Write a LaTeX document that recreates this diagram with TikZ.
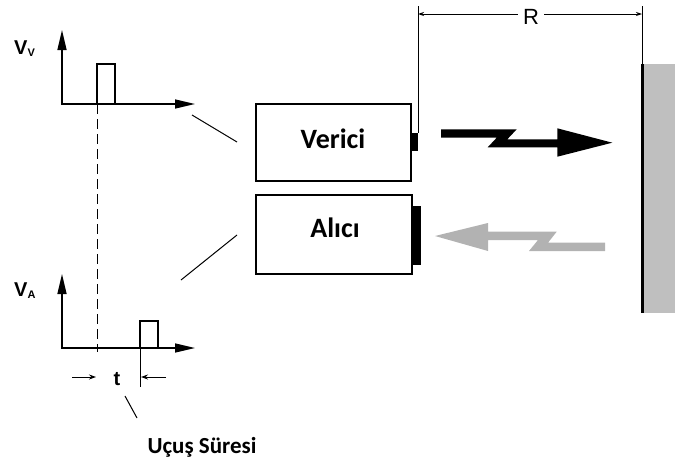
\documentclass[tikz,border=0pt]{standalone}
\usepackage{fontspec}
\setmainfont{Carlito}
\newfontfamily\arialfont{Liberation Sans}
\newfontfamily\arialbold{Liberation Sans Bold}
\usetikzlibrary{arrows.meta}
\tikzset{
  axisline/.style={line width=1.4pt, {Triangle[length=20pt,width=9pt]}-{Triangle[length=20pt,width=9pt]}},
  pulse/.style={line width=1.1pt},
  thinline/.style={line width=0.9pt},
  dimarrow/.style={line width=0.9pt, -{Stealth[length=7pt,width=5pt]}},
  bigtxt/.style={font=\fontsize{28}{28}\selectfont\bfseries, inner sep=0pt, anchor=base},
  plotlabel/.style={anchor=base west, inner sep=0pt, font=\arialbold\fontsize{20}{20}\selectfont}
}
\begin{document}
\begin{tikzpicture}[x=1pt,y=-1pt]
\useasboundingbox (0,0) rectangle (675,463);

% --- boxes
\node[draw, line width=1.3pt, minimum width=155pt, minimum height=77pt, inner sep=0pt] (verici) at (333.5,142.5) {};
\node[draw, line width=1.3pt, minimum width=156pt, minimum height=79pt, inner sep=0pt] (alici) at (334,234.5) {};
\node[bigtxt] (vericitxt) at (333,148) {Verici};
\node[bigtxt] (alicitxt) at (335,237) {Alıcı};
% transducers
\node[fill=black, minimum width=7pt, minimum height=18.5pt, inner sep=0pt, outer sep=0pt] (tx) at (414.5,141.8) {};
\node[fill=black, minimum width=8.5pt, minimum height=59pt, inner sep=0pt, outer sep=0pt] (rx) at (416.4,235.5) {};

% --- wall
\fill[black!25] (642,64) rectangle (675,313);
\draw[line width=3pt] (642.5,64) -- (642.5,313);
\coordinate (walltop) at (642,64);

% --- R dimension
\coordinate (rl) at (418,14);
\coordinate (rr) at (642,14);
\draw[thinline] (418,6) -- (tx.north east);
\draw[thinline] (642,6) -- (walltop);
\draw[line width=0.9pt, {Stealth[length=6pt,width=4pt]}-{Stealth[length=6pt,width=4pt]}] (rl) -- (rr);
\node[fill=white, inner xsep=5pt, inner ysep=1pt, anchor=base, font=\arialfont\fontsize{22}{22}\selectfont] (rlab) at (531,24) {R};

% --- black transmit arrow (lightning)
\fill[black] (441,129.3) -- (516.7,129.3) -- (507.3,139.3) -- (557.3,139.3) -- (557.3,128.3)
  -- (612.3,142.7) -- (557.3,156.7) -- (557.3,147.3) -- (487.7,147.3) -- (496.7,137.7) -- (441,137.7) -- cycle;
% --- gray echo arrow
\fill[black!30] (435,236) -- (488,223) -- (488,231.7) -- (556.7,231.7) -- (548,242.7) -- (605,242.7)
  -- (605,251) -- (529,251) -- (538,240) -- (488,240) -- (488,251) -- cycle;

% --- V_V plot
\node[plotlabel] (vv) at (14,54) {V\raisebox{-2pt}{\fontsize{11}{11}\selectfont V}};
\draw[axisline] (62,30) -- (62,104) -- (195,104);
\draw[pulse] (97,104) -- (97,64) -- (115,64) -- (115,104);

% --- V_A plot
\node[plotlabel] (va) at (14,296) {V\raisebox{-2pt}{\fontsize{11}{11}\selectfont A}};
\draw[axisline] (62,274) -- (62,348) -- (195,348);
\draw[pulse] (140,348) -- (140,321) -- (158,321) -- (158,348);
\draw[thinline] (140,348) -- (140,387);

% dashed reference line
\draw[thinline, dash pattern=on 10pt off 5pt] (97,104) -- (97,352);

% --- connectors from plots to boxes
\coordinate (c1a) at (192,115);
\coordinate (c1b) at (237,142);
\coordinate (c2a) at (181,280);
\coordinate (c2b) at (237,235);
\draw[line width=1pt] (c1a) -- (c1b);
\draw[line width=1pt] (c2a) -- (c2b);

% --- time of flight
\coordinate (ta) at (72,377);
\coordinate (tb) at (96,377);
\coordinate (tc) at (166,377);
\coordinate (td) at (141,377);
\draw[dimarrow] (ta) -- (tb);
\draw[dimarrow] (tc) -- (td);
\node[anchor=base, inner sep=0pt, font=\arialbold\fontsize{20}{20}\selectfont] (tlab) at (117,385) {t};
\coordinate (la) at (125,396);
\coordinate (lb) at (137,418);
\draw[line width=1pt] (la) -- (lb);
\node[anchor=base, inner sep=0pt, font=\fontsize{23}{23}\selectfont\bfseries] (ucus) at (202,453) {Uçuş Süresi};
\end{tikzpicture}
\end{document}
